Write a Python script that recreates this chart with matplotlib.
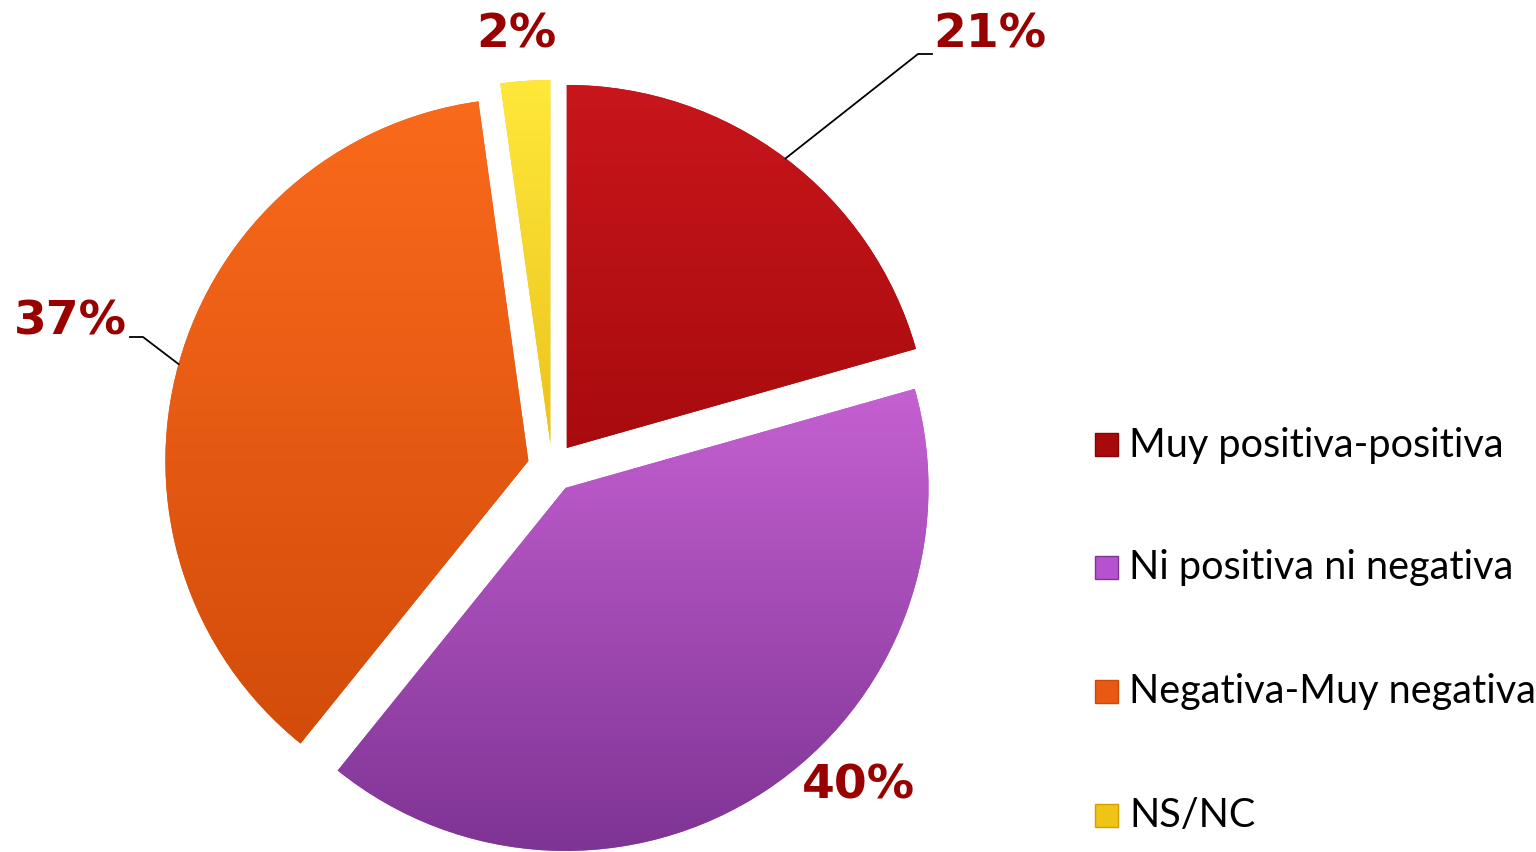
import numpy as np
import matplotlib
matplotlib.use("Agg")
import matplotlib.pyplot as plt
from matplotlib.colors import LinearSegmentedColormap
from matplotlib.patches import Rectangle

categories = ["Muy positiva-positiva", "Ni positiva ni negativa",
              "Negativa-Muy negativa", "NS/NC"]
values = [20.6, 40.2, 37.0, 2.2]
top_colors = ["#C8161C", "#EE7AF6", "#FA6A1C", "#FFE83A"]
bot_colors = ["#880000", "#7E3494", "#CE4808", "#D89E00"]
flat_colors = ["#A80A0C", "#B552CF", "#E85A14", "#F0C414"]

W, H = 1536, 853
fig = plt.figure(figsize=(W / 100, H / 100), dpi=100)
ax = fig.add_axes([0, 0, 1, 1])

cx, cy, R = 552, H - 468.5, 363
wedges, _ = ax.pie(values, explode=[24.5] * 4, startangle=90, counterclock=False,
                   center=(cx, cy), radius=R, colors=flat_colors, frame=True,
                   wedgeprops=dict(linewidth=0))

# gradient fill clipped to each wedge
grad = np.linspace(1, 0, 256).reshape(-1, 1)
for w, tc, bc in zip(wedges, top_colors, bot_colors):
    cmap = LinearSegmentedColormap.from_list("g", [bc, tc])
    wx, wy = w.center
    im = ax.imshow(grad, cmap=cmap, extent=[wx - R, wx + R, wy - R, wy + R],
                   aspect="auto", origin="upper", zorder=w.get_zorder() + 0.1)
    im.set_clip_path(w)

ax.set_xlim(0, W)
ax.set_ylim(0, H)
ax.set_aspect("equal")
ax.axis("off")

label_color = "#990000"
label_font = dict(fontsize=34, fontweight="bold", color=label_color,
                  family="DejaVu Sans", ha="center", va="center")
label_pos = [(990, H - 35), (858, H - 786), (70, H - 322), (516, H - 35)]
leader = [((918, H - 55), (932, H - 55)), None, ((143, H - 338), (130, H - 338)), None]

for w, v, pos, ld in zip(wedges, values, label_pos, leader):
    ax.text(pos[0], pos[1], f"{v:.0f}%", zorder=10, **label_font)
    if ld is not None:
        mid = np.deg2rad((w.theta1 + w.theta2) / 2)
        wx, wy = w.center
        px, py = wx + R * np.cos(mid), wy + R * np.sin(mid)
        ax.plot([px, ld[0][0], ld[1][0]], [py, ld[0][1], ld[1][1]],
                color="black", lw=1.3, zorder=9)

# legend
leg_y = [445, 568, 692, 816]
for cat, fc, bc, y in zip(categories, flat_colors, bot_colors, leg_y):
    ax.add_patch(Rectangle((1095, H - y - 11.5), 23, 23, facecolor=fc,
                           edgecolor=bc, lw=1, zorder=10))
    ax.text(1129, H - y, cat, fontsize=28.5, family="Lato", color="black",
            ha="left", va="center", zorder=10)

fig.savefig("out.png", dpi=100)
